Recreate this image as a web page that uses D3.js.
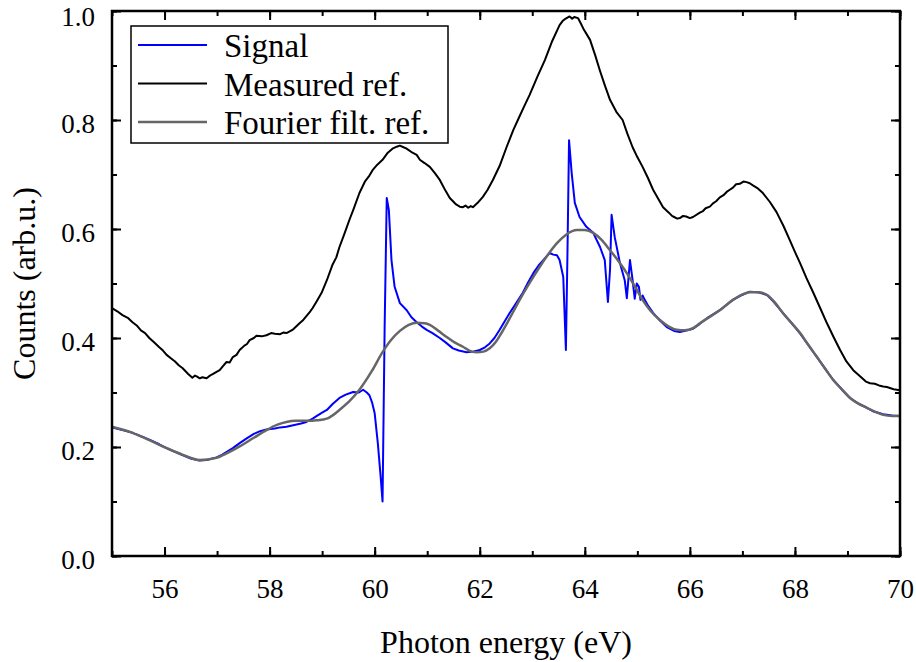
<!DOCTYPE html>
<html><head><meta charset="utf-8">
<script src="https://cdn.jsdelivr.net/npm/d3@7"></script>
<style>body{margin:0;background:#fff}</style>
</head><body><svg id="c" width="916" height="662"></svg>
<script>
const xTicksMajor = [56,58,60,62,64,66,68,70];
const yTicksMajor = [0,0.2,0.4,0.6,0.8,1.0];
const legendLabels = ["Signal","Measured ref.","Fourier filt. ref."];

const measuredX = [55.0,55.1,55.2,55.3,55.39,55.47,55.55,55.63,55.71,55.8,55.9,55.97,56.04,56.12,56.2,56.27,56.34,56.4,56.45,56.53,56.58,56.62,56.67,56.72,56.8,56.85,56.9,56.99,57.05,57.1,57.18,57.24,57.3,57.37,57.43,57.52,57.57,57.62,57.7,57.75,57.85,57.94,58.03,58.1,58.2,58.26,58.32,58.4,58.45,58.57,58.63,58.7,58.76,58.82,58.9,58.99,59.09,59.2,59.27,59.33,59.42,59.52,59.6,59.71,59.82,59.9,59.96,60.05,60.15,60.25,60.3,60.35,60.42,60.48,60.55,60.6,60.72,60.8,60.86,60.95,61.05,61.15,61.24,61.35,61.43,61.5,61.55,61.62,61.68,61.73,61.78,61.83,61.87,61.96,62.06,62.15,62.25,62.38,62.51,62.64,62.75,62.85,62.95,63.1,63.24,63.38,63.52,63.58,63.62,63.67,63.71,63.76,63.8,63.87,63.92,63.97,64.1,64.2,64.29,64.38,64.48,64.6,64.72,64.81,64.91,65.0,65.1,65.2,65.3,65.4,65.49,65.6,65.66,65.7,65.76,65.81,65.87,65.93,66.0,66.06,66.19,66.25,66.3,66.38,66.44,66.5,66.57,66.64,66.7,66.76,66.82,66.88,66.95,67.02,67.08,67.14,67.2,67.3,67.39,67.52,67.65,67.78,67.9,68.0,68.1,68.22,68.35,68.48,68.61,68.74,68.86,68.98,69.11,69.25,69.35,69.43,69.52,69.6,69.68,69.75,69.88,70.0];
const measuredY = [0.455,0.449,0.442,0.437,0.429,0.423,0.414,0.409,0.400,0.392,0.383,0.377,0.369,0.363,0.357,0.350,0.345,0.339,0.334,0.327,0.331,0.329,0.326,0.328,0.326,0.330,0.333,0.338,0.341,0.347,0.356,0.355,0.365,0.369,0.378,0.386,0.389,0.396,0.400,0.404,0.403,0.405,0.409,0.408,0.407,0.410,0.409,0.413,0.416,0.427,0.432,0.440,0.447,0.455,0.468,0.483,0.506,0.535,0.548,0.567,0.590,0.617,0.637,0.666,0.688,0.698,0.708,0.718,0.727,0.740,0.744,0.748,0.751,0.753,0.750,0.748,0.740,0.736,0.727,0.721,0.714,0.702,0.690,0.670,0.657,0.650,0.645,0.641,0.640,0.643,0.639,0.642,0.640,0.648,0.659,0.672,0.690,0.716,0.750,0.782,0.805,0.826,0.846,0.880,0.910,0.945,0.974,0.982,0.985,0.988,0.990,0.986,0.989,0.987,0.978,0.968,0.947,0.918,0.890,0.864,0.837,0.815,0.800,0.775,0.750,0.732,0.714,0.694,0.672,0.655,0.640,0.630,0.624,0.622,0.619,0.620,0.624,0.623,0.620,0.622,0.630,0.633,0.638,0.641,0.647,0.651,0.658,0.662,0.668,0.672,0.676,0.682,0.683,0.687,0.686,0.684,0.680,0.674,0.666,0.650,0.631,0.606,0.580,0.558,0.537,0.510,0.483,0.455,0.427,0.401,0.378,0.357,0.341,0.329,0.320,0.317,0.316,0.313,0.311,0.310,0.306,0.304];

const signalX = [55.0,55.2,55.39,55.55,55.7,55.9,56.04,56.2,56.34,56.5,56.67,56.8,56.99,57.1,57.2,57.3,57.43,57.55,57.7,57.82,57.94,58.1,58.2,58.32,58.45,58.6,58.7,58.82,58.9,59.0,59.09,59.2,59.33,59.45,59.59,59.7,59.78,59.85,59.9,59.95,60.0,60.06,60.11,60.15,60.19,60.23,60.27,60.32,60.38,60.48,60.61,60.7,60.8,60.9,60.99,61.1,61.24,61.35,61.49,61.6,61.75,61.87,62.0,62.1,62.19,62.28,62.38,62.47,62.57,62.7,62.82,62.92,63.02,63.12,63.21,63.33,63.4,63.47,63.52,63.59,63.64,63.67,63.70,63.75,63.81,63.9,64.03,64.16,64.29,64.38,64.44,64.48,64.51,64.57,64.67,64.76,64.8,64.86,64.91,64.95,64.99,65.03,65.06,65.1,65.14,65.2,65.3,65.43,65.56,65.7,65.81,65.95,66.06,66.19,66.35,66.57,66.7,66.82,66.95,67.14,67.3,67.47,67.6,67.77,67.95,68.1,68.25,68.42,68.58,68.73,68.9,69.05,69.2,69.37,69.5,69.68,69.85,70.0];
const signalY = [0.236,0.231,0.226,0.220,0.214,0.205,0.198,0.191,0.185,0.179,0.175,0.176,0.181,0.186,0.192,0.198,0.207,0.215,0.224,0.229,0.232,0.234,0.236,0.237,0.240,0.243,0.246,0.252,0.257,0.263,0.268,0.279,0.290,0.296,0.301,0.300,0.305,0.300,0.295,0.282,0.262,0.207,0.150,0.100,0.420,0.657,0.635,0.543,0.494,0.464,0.451,0.438,0.429,0.421,0.415,0.409,0.400,0.392,0.381,0.377,0.374,0.375,0.378,0.383,0.390,0.400,0.415,0.430,0.446,0.465,0.483,0.502,0.519,0.533,0.543,0.556,0.553,0.552,0.543,0.512,0.378,0.556,0.763,0.703,0.648,0.622,0.604,0.593,0.567,0.543,0.466,0.525,0.626,0.585,0.537,0.506,0.473,0.543,0.506,0.472,0.500,0.494,0.470,0.478,0.470,0.460,0.446,0.432,0.420,0.413,0.411,0.414,0.417,0.426,0.438,0.451,0.461,0.470,0.477,0.485,0.484,0.479,0.466,0.446,0.426,0.408,0.388,0.365,0.343,0.323,0.305,0.290,0.280,0.272,0.265,0.260,0.258,0.257];

const fourierX = [55.0,55.39,55.7,56.04,56.34,56.67,56.99,57.2,57.43,57.7,57.94,58.15,58.32,58.5,58.7,58.9,59.09,59.2,59.33,59.52,59.71,59.95,60.15,60.3,60.48,60.65,60.8,60.95,61.05,61.2,61.37,61.52,61.68,61.8,61.94,62.07,62.19,62.3,62.38,62.57,62.76,62.95,63.14,63.3,63.47,63.65,63.85,64.0,64.16,64.32,64.48,64.65,64.8,64.95,65.1,65.25,65.43,65.6,65.75,65.9,66.06,66.19,66.4,66.57,66.82,67.0,67.14,67.3,67.47,67.62,67.77,67.95,68.1,68.25,68.42,68.58,68.73,68.9,69.05,69.2,69.37,69.52,69.68,69.85,70.0];
const fourierY = [0.237,0.226,0.213,0.198,0.186,0.176,0.180,0.189,0.201,0.217,0.231,0.241,0.246,0.248,0.248,0.249,0.252,0.258,0.268,0.284,0.305,0.340,0.374,0.395,0.413,0.424,0.428,0.427,0.424,0.414,0.402,0.392,0.384,0.377,0.374,0.375,0.381,0.392,0.404,0.436,0.470,0.501,0.530,0.553,0.574,0.590,0.598,0.598,0.593,0.580,0.561,0.540,0.519,0.495,0.470,0.450,0.433,0.421,0.415,0.414,0.418,0.427,0.440,0.451,0.470,0.480,0.484,0.484,0.479,0.465,0.446,0.426,0.409,0.388,0.365,0.343,0.323,0.305,0.290,0.280,0.272,0.265,0.259,0.257,0.257];

const svg = d3.select("#c");
const L = 112, R = 900, T = 11, B = 556;
const FS = 27;
const FF = '"Liberation Serif","Liberation Sans",sans-serif';
const x = d3.scaleLinear().domain([55,70]).range([L,R]);
const y = d3.scaleLinear().domain([0,1]).range([B,T]);

svg.append("clipPath").attr("id","pc").append("rect")
  .attr("x",L).attr("y",T).attr("width",R-L).attr("height",B-T);

const zip = (xs,ys)=>xs.map((v,i)=>[v,ys[i]]);
const lineLin = d3.line().x(d=>x(d[0])).y(d=>y(d[1]));
const lineSmooth = d3.line().x(d=>x(d[0])).y(d=>y(d[1])).curve(d3.curveMonotoneX);

const g = svg.append("g").attr("clip-path","url(#pc)");
g.append("path").datum(zip(measuredX,measuredY)).attr("d",lineLin)
  .attr("fill","none").attr("stroke","#000").attr("stroke-width",2).attr("stroke-linejoin","round");
g.append("path").datum(zip(signalX,signalY)).attr("d",lineLin)
  .attr("fill","none").attr("stroke","#0000ff").attr("stroke-width",2).attr("stroke-linejoin","round");
g.append("path").datum(zip(fourierX,fourierY)).attr("d",lineSmooth)
  .attr("fill","none").attr("stroke","#666666").attr("stroke-width",2.5);

const xMinor = d3.range(55,70.01,1), yMinor = d3.range(0,1.001,0.1);
const xb = d3.axisBottom(x).tickValues(xTicksMajor).tickSize(-9).tickPadding(23).tickFormat(d3.format("d"));
const xbm = d3.axisBottom(x).tickValues(xMinor).tickSize(-5).tickFormat("");
const xt = d3.axisTop(x).tickValues(xTicksMajor).tickSize(-9).tickFormat("");
const xtm = d3.axisTop(x).tickValues(xMinor).tickSize(-5).tickFormat("");
const yl = d3.axisLeft(y).tickValues(yTicksMajor).tickSize(-9).tickPadding(17).tickFormat(d3.format(".1f"));
const ylm = d3.axisLeft(y).tickValues(yMinor).tickSize(-5).tickFormat("");
const yr = d3.axisRight(y).tickValues(yTicksMajor).tickSize(-9).tickFormat("");
const yrm = d3.axisRight(y).tickValues(yMinor).tickSize(-5).tickFormat("");

function addAxis(ax, tr){
  const a = svg.append("g").attr("transform",tr).call(ax);
  a.attr("font-family",FF);
  a.select(".domain").remove();
  a.selectAll("line").attr("stroke","#000").attr("stroke-width",2);
  a.selectAll("text").attr("fill","#000").attr("font-size",FS);
  return a;
}
addAxis(xb,`translate(0,${B})`);
addAxis(xbm,`translate(0,${B})`);
addAxis(xt,`translate(0,${T})`);
addAxis(xtm,`translate(0,${T})`);
addAxis(yl,`translate(${L},0)`).selectAll("text").attr("dy",d=>d===1?"0.52em":"0.48em");
addAxis(ylm,`translate(${L},0)`);
addAxis(yr,`translate(${R},0)`);
addAxis(yrm,`translate(${R},0)`);

svg.append("rect").attr("x",L).attr("y",T).attr("width",R-L).attr("height",B-T)
  .attr("fill","none").attr("stroke","#000").attr("stroke-width",2.5);

svg.append("text").attr("x",(L+R)/2).attr("y",653).attr("text-anchor","middle")
  .attr("font-family",FF).attr("font-size",32).text("Photon energy (eV)");
svg.append("text").attr("transform",`translate(35,${(T+B)/2}) rotate(-90)`).attr("text-anchor","middle")
  .attr("font-family",FF).attr("font-size",32).text("Counts (arb.u.)");

const lg = svg.append("g");
lg.append("rect").attr("x",131).attr("y",26).attr("width",317).attr("height",117)
  .attr("fill","#fff").attr("stroke","#000").attr("stroke-width",1.5);
const colors = ["#0000ff","#000000","#666666"];
legendLabels.forEach((t,i)=>{
  const yy = 45 + i*38.5;
  lg.append("line").attr("x1",138).attr("x2",207).attr("y1",yy).attr("y2",yy)
    .attr("stroke",colors[i]).attr("stroke-width",i==2?2.5:2);
  lg.append("text").attr("x",224).attr("y",yy+12).attr("font-family",FF).attr("font-size",33).text(t);
});
</script></body></html>
